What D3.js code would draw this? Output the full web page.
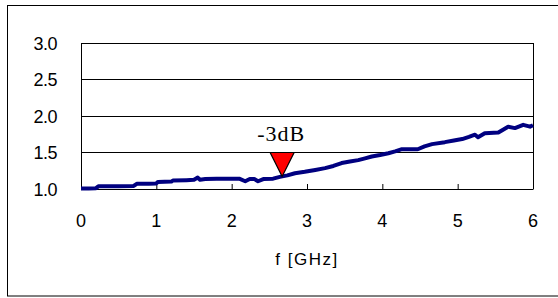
<!DOCTYPE html>
<html><head><meta charset="utf-8">
<script src="https://cdn.jsdelivr.net/npm/d3@7"></script>
<style>body{margin:0;background:#fff;}svg{display:block;}</style>
</head><body>
<script>
const freq = [0,0.1,0.2,0.23,0.3,0.5,0.7,0.74,0.9,1.0,1.02,1.2,1.22,1.4,1.5,1.55,1.58,1.65,1.8,2.0,2.1,2.18,2.24,2.3,2.35,2.42,2.55,2.64,2.74,2.84,2.97,3.11,3.24,3.35,3.46,3.57,3.68,3.77,3.86,3.97,4.08,4.17,4.26,4.47,4.56,4.66,4.83,4.95,5.06,5.15,5.23,5.27,5.36,5.54,5.67,5.76,5.87,5.96,6.0];
const gain = [1.0,1.0,1.005,1.03,1.03,1.03,1.035,1.065,1.065,1.07,1.09,1.095,1.11,1.115,1.12,1.15,1.12,1.13,1.135,1.135,1.135,1.10,1.13,1.13,1.10,1.13,1.135,1.16,1.18,1.21,1.23,1.255,1.28,1.31,1.35,1.37,1.39,1.415,1.44,1.46,1.485,1.51,1.54,1.54,1.58,1.61,1.637,1.66,1.68,1.71,1.74,1.705,1.76,1.77,1.85,1.83,1.875,1.85,1.87];
const xTicks = [0,1,2,3,4,5,6];
const yTicks = [1.0,1.5,2.0,2.5,3.0];
const markerF = 2.67, markerV = 1.165, markerLabel = "-3dB";
const xTitle = "f [GHz]";

const W = 558, H = 298;
const svg = d3.select("body").append("svg").attr("width", W).attr("height", H);
svg.append("rect").attr("x", 7.5).attr("y", 5.5).attr("width", 560).attr("height", 290.5)
  .attr("fill", "none").attr("stroke", "#000").attr("stroke-width", 1);

const L = 81, R = 533, T = 43, B = 188.5;
const x = d3.scaleLinear().domain([0, 6]).range([L, R]);
const y = d3.scaleLinear().domain([1, 3]).range([B, T]);

// gridlines
svg.append("g").selectAll("line").data(yTicks.slice(1)).join("line")
  .attr("x1", L).attr("x2", R).attr("y1", d => Math.round(y(d)) + 0.5).attr("y2", d => Math.round(y(d)) + 0.5)
  .attr("stroke", "#000");
// frame
svg.append("line").attr("x1", L + 0.5).attr("x2", L + 0.5).attr("y1", T).attr("y2", B + 0.5).attr("stroke", "#000");
svg.append("line").attr("x1", R + 0.5).attr("x2", R + 0.5).attr("y1", T).attr("y2", B + 0.5).attr("stroke", "#000");

// bottom axis
const xa = svg.append("g").attr("transform", `translate(0,${B + 0.5})`)
  .call(d3.axisBottom(x).tickValues(xTicks).tickSizeInner(-5).tickSizeOuter(0).tickPadding(0).tickFormat(d3.format("d")));
xa.select(".domain").attr("stroke", "#000");
xa.selectAll(".tick line").attr("stroke", "#000");
xa.selectAll(".tick text").remove();
svg.append("g").selectAll("text").data(xTicks).join("text")
  .attr("x", d => x(d)).attr("y", 227).attr("text-anchor", "middle")
  .attr("font-family", "Liberation Sans, Arial, sans-serif").attr("font-size", 18)
  .text(d => d);

// y labels
svg.append("g").selectAll("text").data(yTicks).join("text")
  .attr("x", 57).attr("y", d => y(d) + 7).attr("text-anchor", "end")
  .attr("font-family", "Liberation Sans, Arial, sans-serif").attr("font-size", 18)
  .attr("letter-spacing", -0.5).text(d => d.toFixed(1));

// line
const data = freq.map((f, i) => [f, gain[i]]);
svg.append("path").datum(data)
  .attr("d", d3.line().x(d => x(d[0])).y(d => y(d[1])))
  .attr("fill", "none").attr("stroke", "#000080").attr("stroke-width", 4).attr("stroke-linejoin", "round");

// marker
const mx = x(markerF), my = y(markerV);
svg.append("path").attr("d", `M${mx},${my} L${mx - 12},${my - 24} L${mx + 12},${my - 24} Z`)
  .attr("fill", "#ff0000").attr("stroke", "#000").attr("stroke-width", 1.2);
svg.append("text").attr("x", mx - 1).attr("y", my - 35).attr("text-anchor", "middle")
  .attr("font-family", "Liberation Serif, Times New Roman, serif").attr("font-size", 22)
  .attr("letter-spacing", 1).text(markerLabel);

// title
svg.append("text").attr("x", 307).attr("y", 265).attr("text-anchor", "middle")
  .attr("font-family", "Liberation Sans, Arial, sans-serif").attr("font-size", 17)
  .attr("letter-spacing", 1.5).text(xTitle);
</script>
</body></html>
